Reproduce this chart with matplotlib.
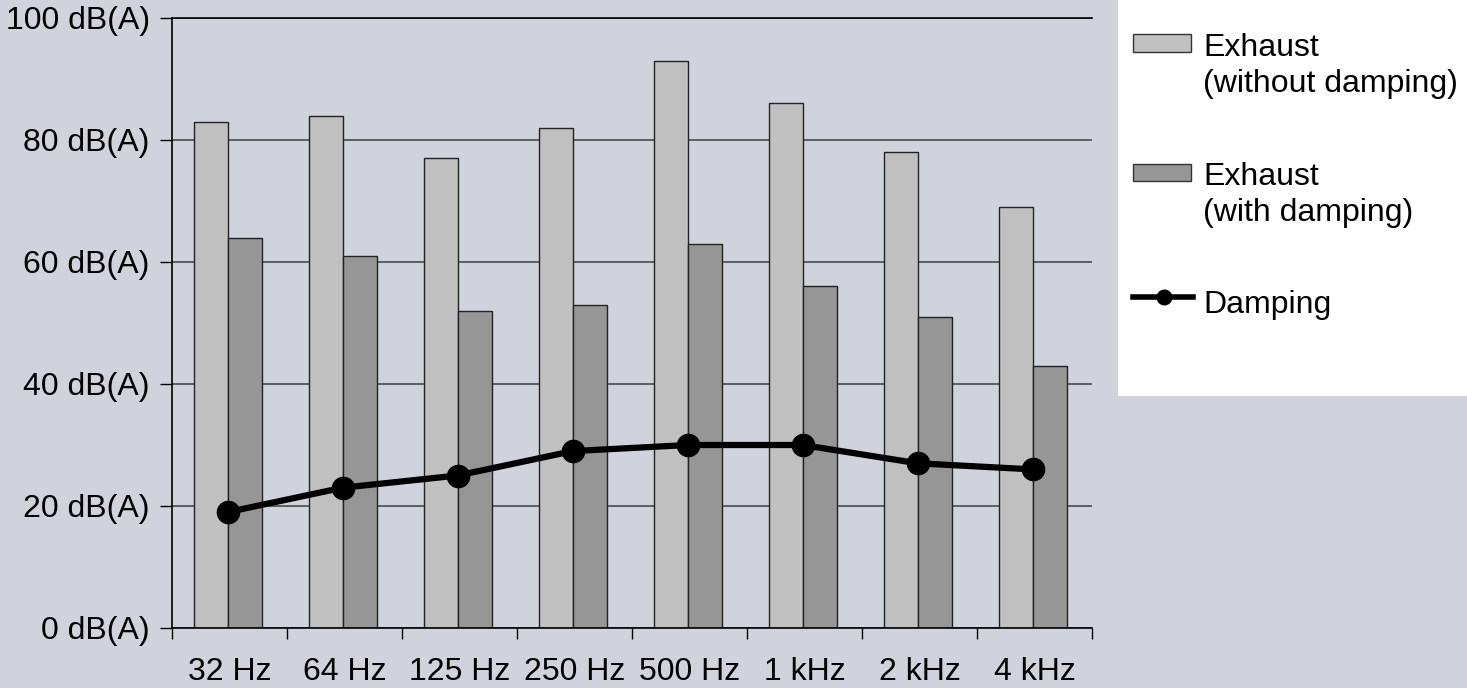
import matplotlib
matplotlib.use("Agg")
import matplotlib.pyplot as plt
from matplotlib.patches import Rectangle
from matplotlib.lines import Line2D
import numpy as np

plt.rcParams['font.family'] = ['Liberation Sans', 'DejaVu Sans']

categories = ["32 Hz", "64 Hz", "125 Hz", "250 Hz", "500 Hz", "1 kHz", "2 kHz", "4 kHz"]
without_damping = [83, 84, 77, 82, 93, 86, 78, 69]
with_damping = [64, 61, 52, 53, 63, 56, 51, 43]
damping = [19, 23, 25, 29, 30, 30, 27, 26]
y_ticks = [0, 20, 40, 60, 80, 100]
y_tick_labels = [f"{v} dB(A)" for v in y_ticks]
legend_labels = [["Exhaust", "(without damping)"],
                 ["Exhaust", "(with damping)"],
                 ["Damping"]]

BG = "#D0D3DB"
LIGHT = "#C0C0C0"
DARK = "#969696"
FS = 23

W, H = 1467, 688
fig = plt.figure(figsize=(W / 100, H / 100), dpi=100, facecolor=BG)
ax = fig.add_axes([172 / W, 1 - 628 / H, (1092 - 172) / W, (628 - 18) / H])
ax.set_facecolor(BG)

x = np.arange(len(categories))
shift = -0.015
bw = 0.296
ax.bar(x + shift - bw / 2, without_damping, width=bw, color=LIGHT,
       edgecolor="#222222", linewidth=1.0, zorder=2)
ax.bar(x + shift + bw / 2, with_damping, width=bw, color=DARK,
       edgecolor="#222222", linewidth=1.0, zorder=2)
ax.plot(x + shift, damping, color="black", linewidth=4.5, marker="o",
        markersize=16, zorder=3, solid_joinstyle="round")

ax.set_xlim(-0.5, len(categories) - 0.5)
ax.set_ylim(0, 100)

ax.set_yticks(y_ticks)
ax.set_yticklabels(y_tick_labels, fontsize=FS)
ax.yaxis.grid(True, color="#555555", linewidth=1.3, zorder=0)
ax.set_axisbelow(True)

ax.set_xticks(np.arange(len(categories) + 1) - 0.5)
ax.set_xticklabels([])
ax.set_xticks(x, minor=True)
ax.set_xticklabels(categories, minor=True, fontsize=FS)
ax.tick_params(axis="x", which="minor", length=0, pad=21)
ax.tick_params(axis="x", which="major", length=8, width=1.0, color="black")
ax.tick_params(axis="y", length=9, width=1.0, color="black", pad=7)

ax.spines["right"].set_visible(False)
for side in ("left", "bottom", "top"):
    ax.spines[side].set_color("black")
    ax.spines[side].set_linewidth(1.2)

# legend panel drawn in figure pixel space
def px(xp, yp):
    return xp / W, 1 - yp / H

lx0, ly0 = px(1118, 396)
fig.patches.append(Rectangle((lx0, ly0), (W - 1118) / W, 396 / H,
                             transform=fig.transFigure, facecolor="white",
                             edgecolor="none", zorder=0))

handles = [("patch", LIGHT, 43, 56),
           ("patch", DARK, 172, 185),
           ("line", "black", 297, 313)]
for (kind, col, yc, base), lines in zip(handles, legend_labels):
    if kind == "patch":
        rx, ry = px(1133, yc + 8.5)
        fig.patches.append(Rectangle((rx, ry), 58 / W, 17 / H,
                                     transform=fig.transFigure, facecolor=col,
                                     edgecolor="#333333", linewidth=1.0))
    else:
        a, b = px(1133, yc)
        c, _ = px(1193, yc)
        fig.lines.append(Line2D([a, c], [b, b], transform=fig.transFigure,
                                color=col, linewidth=4.0))
        m, _ = px(1164, yc)
        fig.lines.append(Line2D([m], [b], transform=fig.transFigure,
                                color=col, marker="o", markersize=10.5))
    for k, text in enumerate(lines):
        tx, ty = px(1203, base + 36 * k)
        fig.text(tx, ty, text, fontsize=FS, va="baseline", ha="left")

fig.savefig("out.png", dpi=100, facecolor=BG)
